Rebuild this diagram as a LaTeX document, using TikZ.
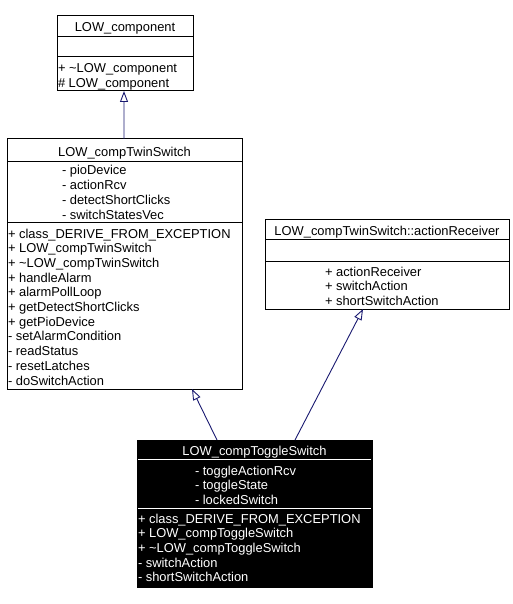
\documentclass[tikz,border=0pt]{standalone}
\usepackage{fontspec}
\setmainfont{Liberation Sans}
\usetikzlibrary{arrows.meta}
\definecolor{edgeblue}{RGB}{25,25,112}
\tikzset{
  txt/.style={inner sep=0pt, outer sep=0pt, font=\fontsize{12.9bp}{15bp}\selectfont},
  wtxt/.style={txt, text=white},
  classbox/.style={draw=black, line width=1bp, inner sep=0pt, outer sep=0pt, rectangle, anchor=north west},
  sepline/.style={line width=1bp},
  inh/.style={draw=edgeblue, line width=0.9bp, -{Triangle[open, length=11bp, width=8bp]}}
}
\begin{document}
\begin{tikzpicture}[x=1bp,y=-1bp]
\useasboundingbox (0,0) rectangle (513,604);
% ---------- LOW_component ----------
\node[classbox, minimum width=136bp, minimum height=75bp] (comp) at (57,16) {};
\draw[sepline] (57,37) -- (193,37);
\draw[sepline] (57,57) -- (193,57);
\node[txt, anchor=base] (compT) at (125,32) {LOW\_component};
\node[txt, anchor=base west] (compM1) at (58,73) {+ \textasciitilde LOW\_component};
\node[txt, anchor=base west] (compM2) at (58,87.5) {\# LOW\_component};
% ---------- LOW_compTwinSwitch ----------
\node[classbox, minimum width=235bp, minimum height=250bp] (twin) at (7,139) {};
\draw[sepline] (7,162) -- (242,162);
\draw[sepline] (7,222) -- (242,222);
\node[txt, anchor=base] (twinT) at (124.5,157) {LOW\_compTwinSwitch};
\foreach \t [count=\i from 0] in {pioDevice, actionRcv, detectShortClicks, switchStatesVec}
  \node[txt, anchor=base west] (twinA\i) at (62,175+14.67*\i) {- \t};
\foreach \t [count=\i from 0] in {+ class\_DERIVE\_FROM\_EXCEPTION, + LOW\_compTwinSwitch, + \textasciitilde LOW\_compTwinSwitch, + handleAlarm, + alarmPollLoop, + getDetectShortClicks, + getPioDevice, - setAlarmCondition, - readStatus, - resetLatches, - doSwitchAction}
  \node[txt, anchor=base west] (twinM\i) at (8,238+14.7*\i) {\t};
% ---------- actionReceiver ----------
\node[classbox, minimum width=244bp, minimum height=90bp] (recv) at (265,219) {};
\draw[sepline] (265,239.5) -- (509,239.5);
\draw[sepline] (265,261) -- (509,261);
\node[txt, anchor=base] (recvT) at (387,235) {LOW\_compTwinSwitch::actionReceiver};
\foreach \t [count=\i from 0] in {actionReceiver, switchAction, shortSwitchAction}
  \node[txt, anchor=base west] (recvM\i) at (325,276+14.67*\i) {+ \t};
% ---------- LOW_compToggleSwitch ----------
\node[classbox, fill=black, minimum width=235bp, minimum height=147bp] (toggle) at (137,440) {};
\draw[sepline, white] (138,459) -- (371,459);
\draw[sepline, white] (138,508) -- (371,508);
\node[wtxt, anchor=base] (toggleT) at (254.5,455) {LOW\_compToggleSwitch};
\foreach \t [count=\i from 0] in {toggleActionRcv, toggleState, lockedSwitch}
  \node[wtxt, anchor=base west] (toggleA\i) at (195,475+14.67*\i) {- \t};
\foreach \t [count=\i from 0] in {+ class\_DERIVE\_FROM\_EXCEPTION, + LOW\_compToggleSwitch, + \textasciitilde LOW\_compToggleSwitch, - switchAction, - shortSwitchAction}
  \node[wtxt, anchor=base west] (toggleM\i) at (138,523+14.7*\i) {\t};
% ---------- inheritance edges ----------
\draw[inh] ([xshift=-0.5bp]twin.north) -- ([xshift=-1bp]comp.south);
\draw[inh] ([xshift=-37.5bp]toggle.north) -- ([xshift=67.5bp]twin.south);
\draw[inh] ([xshift=40.5bp]toggle.north) -- ([xshift=-24bp]recv.south);
\end{tikzpicture}
\end{document}
